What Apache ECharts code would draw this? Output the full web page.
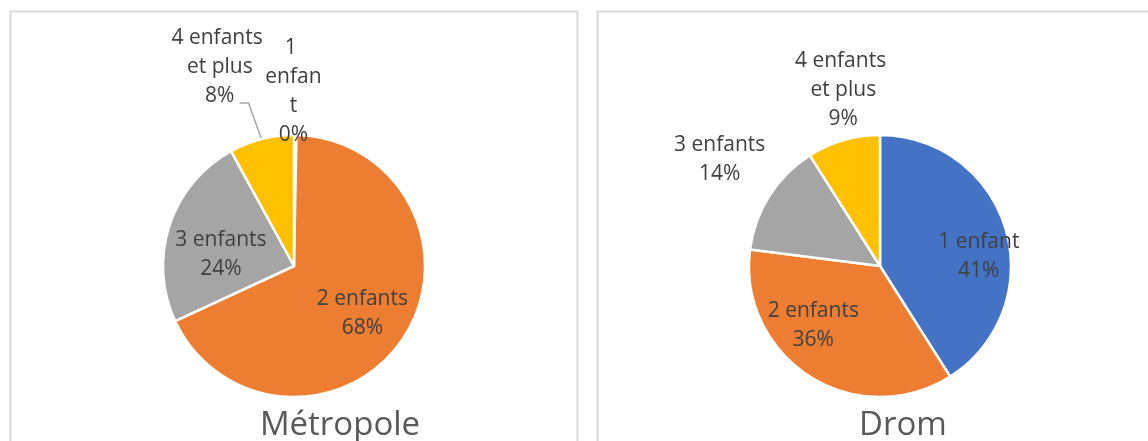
<!DOCTYPE html>
<html>
<head>
<meta charset="utf-8">
<script src="https://cdn.jsdelivr.net/npm/echarts@6/dist/echarts.min.js"></script>
<style>
  html, body { margin: 0; padding: 0; background: #fff; }
  #chart { width: 1148px; height: 441px; }
</style>
</head>
<body>
<div id="chart"></div>
<script>
// catégories et valeurs (en %)
const categories = ["1 enfant", "2 enfants", "3 enfants", "4 enfants et plus"];
const metropoleValues = [0.3, 68, 24, 8];
const dromValues = [41, 36, 14, 9];
const chartTitles = ["Métropole", "Drom"];

const colors = ["#4472C4", "#ED7D31", "#A5A5A5", "#FFC000"];

// décalage des étiquettes (dx, dy) par série / part
const labelShift = [
  [[-22, -28], [11, 10], [-8, 10], [-18, -58]],
  [[33, 10], [-30, 2], [-17, -28], [24, -36]],
];
// étiquettes placées hors du secteur
const outsideLabels = [
  [true, false, false, true],
  [false, false, true, true],
];
const showLine = [
  [false, false, false, true],
  [false, false, false, false],
];

function buildData(values, s) {
  return values.map((v, i) => ({
    name: categories[i],
    value: v,
    itemStyle: { color: colors[i] },
    label: {
      position: outsideLabels[s][i] ? "outside" : "inside",
      width: s === 0 && i === 0 ? 60 : 100,
      overflow: "break",
    },
    labelLine: { show: showLine[s][i] },
  }));
}

const chart = echarts.init(document.getElementById("chart"));

function pieSeries(values, s, cx) {
  return {
    type: "pie",
    center: [cx, 266],
    radius: 131,
    startAngle: 90,
    clockwise: true,
    avoidLabelOverlap: false,
    animation: false,
    itemStyle: { borderColor: "#fff", borderWidth: 2.5 },
    label: {
      color: "#404040",
      fontFamily: "Open Sans",
      fontSize: 21,
      lineHeight: 29,
      formatter: (p) => p.name + "\n" + Math.round(p.percent) + "%",
    },
    labelLine: {
      length: 15,
      length2: 15,
      lineStyle: { color: "#A6A6A6", width: 1.5 },
    },
    labelLayout: (p) => {
      const out = {
        dx: labelShift[s][p.dataIndex][0],
        dy: labelShift[s][p.dataIndex][1],
        align: "center",
        verticalAlign: "middle",
      };
      // trait de rappel : remonte depuis le bord du secteur puis part à gauche
      if (showLine[s][p.dataIndex] && p.labelLinePoints) {
        const a = p.labelLinePoints[0];
        out.labelLinePoints = [a, [a[0] - 13, a[1] - 36], [a[0] - 22, a[1] - 36]];
      }
      return out;
    },
    data: buildData(values, s),
  };
}

const titleStyle = { fontFamily: "Open Sans", fontSize: 33, fontWeight: "normal", color: "#595959" };

chart.setOption({
  backgroundColor: "#fff",
  title: [
    { text: chartTitles[0], left: 335, top: 404, textAlign: "center", textStyle: titleStyle },
    { text: chartTitles[1], left: 898, top: 404, textAlign: "center", textStyle: titleStyle },
  ],
  graphic: [
    {
      type: "rect",
      shape: { x: 10.5, y: 11.5, width: 567, height: 450 },
      style: { fill: "none", stroke: "#D9D9D9", lineWidth: 2 },
      silent: true,
      z: -1,
    },
    {
      type: "rect",
      shape: { x: 597.5, y: 11.5, width: 560, height: 450 },
      style: { fill: "none", stroke: "#D9D9D9", lineWidth: 2 },
      silent: true,
      z: -1,
    },
  ],
  series: [pieSeries(metropoleValues, 0, 294), pieSeries(dromValues, 1, 880)],
});
</script>
</body>
</html>
